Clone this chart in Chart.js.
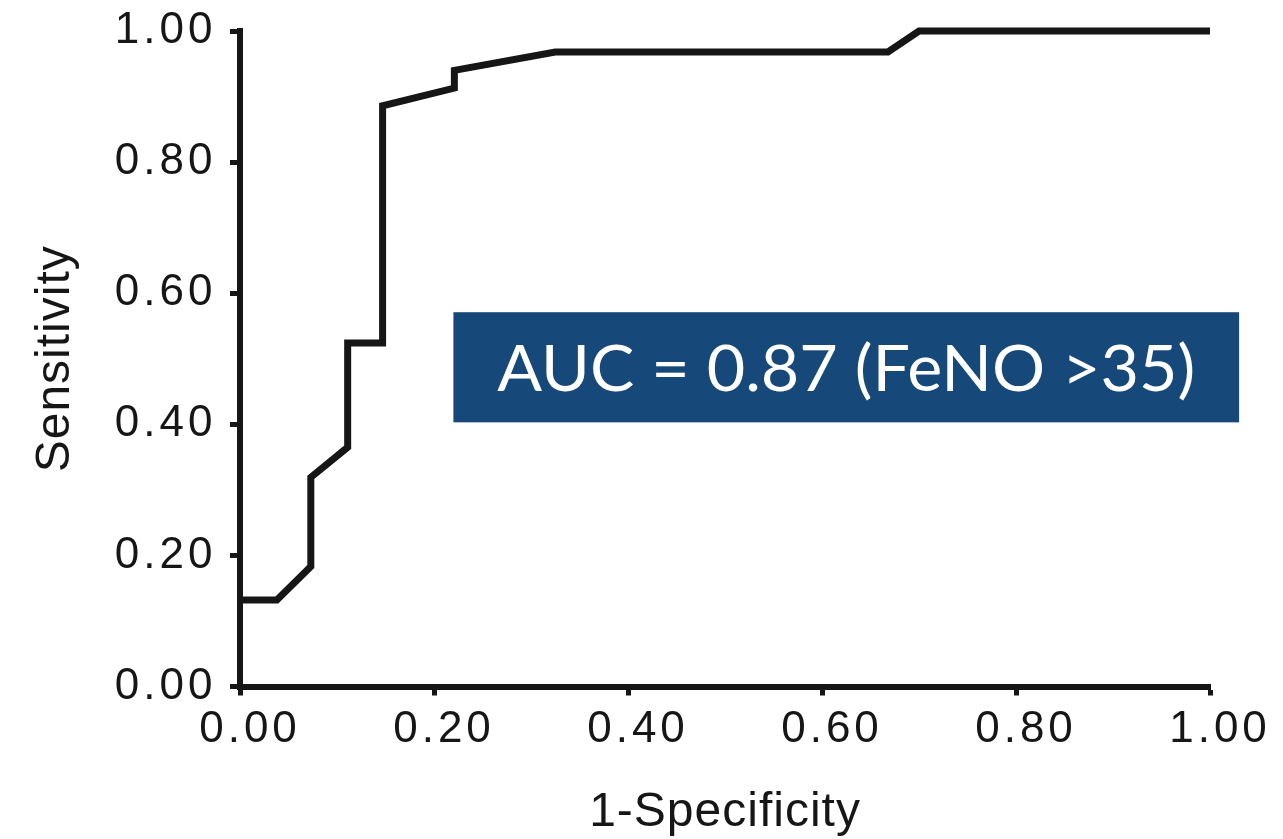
<!DOCTYPE html>
<html>
<head>
<meta charset="utf-8">
<title>ROC curve - FeNO</title>
<script src="https://cdn.jsdelivr.net/npm/chart.js@4.4.1/dist/chart.umd.min.js"></script>
<style>
  html, body { margin: 0; padding: 0; background: #ffffff; }
  #wrap { width: 1283px; height: 839px; }
</style>
</head>
<body>
<div id="wrap"><canvas id="rocChart"></canvas></div>
<script>
// ROC points
var oneMinusSpecificity = [0, 0.038, 0.073, 0.073, 0.111, 0.111, 0.147, 0.147, 0.221, 0.221, 0.325, 0.668, 0.700, 1.0];
var sensitivity = [0.132, 0.132, 0.183, 0.319, 0.365, 0.524, 0.524, 0.886, 0.913, 0.940, 0.968, 0.968, 1.0, 1.0];
var tickValues = [0, 0.2, 0.4, 0.6, 0.8, 1.0];
var aucLabel = "AUC = 0.87 (FeNO >35)";

var ink = "#161616";

var points = oneMinusSpecificity.map(function (x, i) {
  return { x: x, y: sensitivity[i] };
});

// titles get a little spacing, tick labels a wider one
var spacingPlugin = {
  id: "spacing",
  beforeDraw: function (chart) {
    chart.ctx.letterSpacing = "1px";
  },
  afterDatasetsDraw: function (chart) {
    chart.ctx.letterSpacing = "4px";
  },
  afterDraw: function (chart) {
    chart.ctx.letterSpacing = "0px";
  },
};

var aucBoxPlugin = {
  id: "aucBox",
  afterDraw: function (chart) {
    var ctx = chart.ctx;
    var xs = chart.scales.x;
    var ys = chart.scales.y;
    var left = xs.getPixelForValue(0.22);
    var right = xs.getPixelForValue(1.03);
    var top = ys.getPixelForValue(0.571);
    var bottom = ys.getPixelForValue(0.403);

    ctx.save();
    ctx.letterSpacing = "0px";
    ctx.fillStyle = "#17487a";
    ctx.fillRect(left, top, right - left, bottom - top);

    ctx.font = "64px Lato, 'Open Sans', sans-serif";
    var w = ctx.measureText(aucLabel).width;
    ctx.translate((left + right) / 2, bottom - 31);
    ctx.scale(698 / w, 1);
    ctx.fillStyle = "#ffffff";
    ctx.textAlign = "center";
    ctx.textBaseline = "alphabetic";
    ctx.fillText(aucLabel, 0, 0);
    ctx.restore();
  },
};

function setTicks(scale) {
  scale.ticks = tickValues.map(function (v) {
    return { value: v };
  });
}

var ctx = document.getElementById("rocChart").getContext("2d");

var rocChart = new Chart(ctx, {
  type: "scatter",
  data: {
    datasets: [
      {
        label: "ROC",
        data: points,
        showLine: true,
        borderColor: ink,
        borderWidth: 7,
        borderJoinStyle: "miter",
        borderCapStyle: "butt",
        pointRadius: 0,
        fill: false,
        clip: false,
      },
    ],
  },
  options: {
    responsive: true,
    maintainAspectRatio: false,
    animation: false,
    devicePixelRatio: 1,
    layout: {
      padding: { left: 0, right: 73, top: 31, bottom: 0 },
    },
    plugins: {
      legend: { display: false },
      tooltip: { enabled: false },
    },
    scales: {
      x: {
        type: "linear",
        min: 0,
        max: 1,
        afterBuildTicks: setTicks,
        afterFit: function (scale) {
          scale.height = 152.5;
        },
        border: { display: true, color: ink, width: 6 },
        grid: {
          drawOnChartArea: false,
          drawTicks: true,
          tickLength: 9,
          tickWidth: 5,
          tickColor: ink,
        },
        ticks: {
          z: 1,
          maxRotation: 0,
          autoSkip: false,
          padding: 12,
          labelOffset: 10,
          color: ink,
          font: { family: "'Liberation Sans', Arial, sans-serif", size: 44, lineHeight: 1 },
          callback: function (v) {
            return Number(v).toFixed(2);
          },
        },
        title: {
          display: true,
          text: "1-Specificity",
          color: ink,
          font: { family: "'Liberation Sans', Arial, sans-serif", size: 48, lineHeight: 1 },
          padding: { top: 0, bottom: 2.5 },
        },
      },
      y: {
        type: "linear",
        min: 0,
        max: 1,
        afterBuildTicks: setTicks,
        afterFit: function (scale) {
          scale.width = 240;
          scale.paddingTop = 0;
          scale.paddingBottom = 0;
        },
        border: { display: true, color: ink, width: 6 },
        grid: {
          drawOnChartArea: false,
          drawTicks: true,
          tickLength: 10,
          tickWidth: 5,
          tickColor: ink,
        },
        ticks: {
          z: 1,
          autoSkip: false,
          padding: 13.5,
          color: ink,
          font: { family: "'Liberation Sans', Arial, sans-serif", size: 44, lineHeight: 1 },
          callback: function (v) {
            return Number(v).toFixed(2);
          },
        },
        title: {
          display: true,
          text: "Sensitivity",
          color: ink,
          font: { family: "'Liberation Sans', Arial, sans-serif", size: 48, lineHeight: 1 },
          padding: { top: 32, bottom: 0 },
        },
      },
    },
  },
  plugins: [spacingPlugin, aucBoxPlugin],
});
</script>
</body>
</html>
